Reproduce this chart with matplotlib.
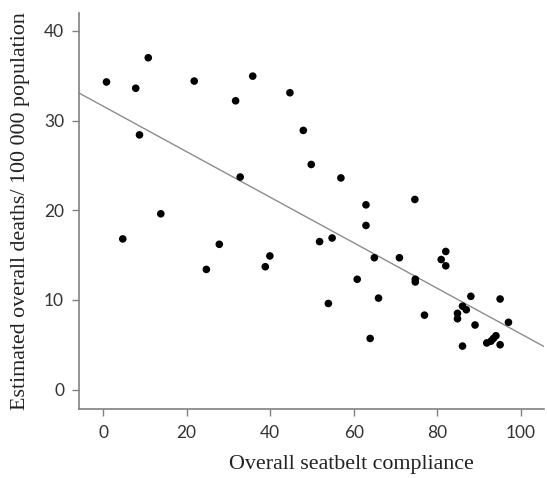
import matplotlib
matplotlib.use("Agg")
import matplotlib.pyplot as plt
import numpy as np

# Data
compliance = [0.8, 10.8, 7.8, 21.8, 8.7, 35.8, 31.7, 44.7, 47.9, 49.8, 32.8, 56.9,
              13.8, 4.7, 27.8, 24.7, 39.9, 38.8, 62.9, 74.6, 62.9, 51.8, 54.8,
              64.9, 70.9, 74.7, 74.7, 60.8, 65.9, 53.9, 63.9, 82.0, 80.9, 82.0,
              88.0, 95.0, 76.9, 86.0, 86.9, 84.8, 84.8, 89.0, 97.0, 86.0,
              91.8, 92.8, 93.4, 94.0, 95.0]
deaths = [34.3, 37.0, 33.6, 34.4, 28.4, 34.95, 32.2, 33.1, 28.9, 25.1, 23.7, 23.6,
          19.6, 16.8, 16.2, 13.4, 14.9, 13.7, 20.6, 21.2, 18.3, 16.5, 16.9,
          14.7, 14.7, 12.3, 12.0, 12.3, 10.2, 9.6, 5.7, 15.4, 14.5, 13.8,
          10.4, 10.1, 8.3, 9.3, 8.9, 8.5, 7.9, 7.2, 7.5, 4.85,
          5.2, 5.4, 5.7, 6.0, 5.0]
fit_intercept = 31.6
fit_slope = -0.254

x_ticks = [0, 20, 40, 60, 80, 100]
y_ticks = [0, 10, 20, 30, 40]
x_label = "Overall seatbelt compliance"
y_label = "Estimated overall deaths/ 100 000 population"

fig = plt.figure(figsize=(5.47, 4.78), dpi=100)
ax = fig.add_axes([0.145, 0.1437, 0.8495, 0.8293])

xlim = (-5.7, 105.5)
ax.set_xlim(*xlim)
ax.set_ylim(-2.2, 42)

xs = np.array(xlim)
ax.plot(xs, fit_intercept + fit_slope * xs, color="#8c8c8c", linewidth=1.0, zorder=1)
ax.scatter(compliance, deaths, s=30, color="black", edgecolors="none", zorder=2)

for side in ("top", "right"):
    ax.spines[side].set_visible(False)
for side in ("left", "bottom"):
    ax.spines[side].set_color("#808080")
    ax.spines[side].set_linewidth(1.2)

ax.set_xticks(x_ticks)
ax.set_yticks(y_ticks)
ax.tick_params(axis="both", direction="out", length=5, width=1, color="#808080",
               labelsize=12.5, labelcolor="#333333", pad=6)
for lbl in ax.get_xticklabels() + ax.get_yticklabels():
    lbl.set_fontfamily("Lato")

fig.text(0.642, 0.029, x_label, ha="center", va="center",
         fontfamily="Liberation Serif", fontsize=15.8, color="#222222")
fig.text(0.037, 0.558, y_label, ha="center", va="center", rotation=90,
         fontfamily="Liberation Serif", fontsize=15.8, color="#222222")

fig.savefig("out.png", dpi=100)
